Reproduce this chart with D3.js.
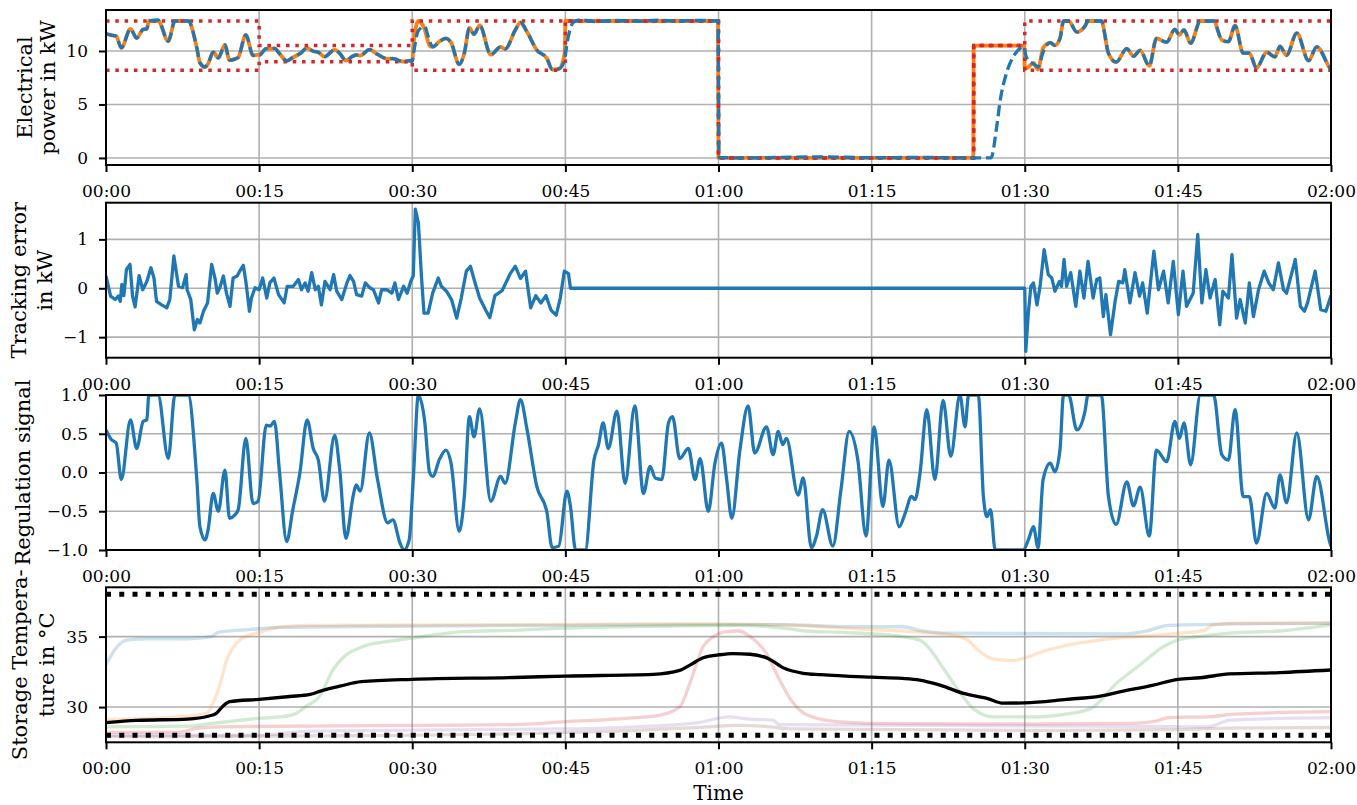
<!DOCTYPE html>
<html>
<head>
<meta charset="utf-8">
<script src="https://cdn.jsdelivr.net/npm/d3@7"></script>
<style>
body{margin:0;background:#fff;}
text{font-family:"DejaVu Serif",serif;fill:#000;}
</style>
</head>
<body>
<div id="chart"></div>
<script>

// time in minutes since 00:00

// ---------- panel 1 : electrical power (kW) ----------
const blockStart = [0, 15, 30, 45, 60, 85, 90];
const blockEnd = 120;
const boundUpper = [12.8, 10.5, 12.8, 12.8, 0, 10.5, 12.8];
const boundLower = [8.2, 9.0, 8.2, 12.8, 0, 10.5, 8.2];

const powerRef = [
  [0,11.6],[0.5,11.49],[1,11.37],[1.5,10.29],[2.4,12.06],[3,11.21],[3.65,12.02],[4,12.06],[4.2,12.8],[5.1,12.8],
  [6.1,10.91],[6.75,12.8],[8.05,12.8],[8.9,10.27],[9.2,8.89],[9.7,8.5],[10,8.8],[10.5,9.88],[11,9.35],[11.65,10.57],
  [12.1,9.14],[12.6,9.24],[12.95,9.4],[13.7,11.51],[14.4,9.58],[14.9,9.65],
  [15,9.6],[15.7,10.21],[16.1,10.2],[16.5,10.25],[17,9.75],[17.7,9.08],[18.3,9.39],[19,9.75],[19.7,10.26],[20.3,9.98],
  [20.8,9.87],[21.4,9.47],[22.4,10.11],[22.9,9.77],[23.5,9.11],[24.2,9.52],[24.5,9.63],[24.9,9.57],[25.8,10.13],[26.6,9.68],
  [27.6,9.26],[28.1,9.29],[28.8,9.07],[29.2,9.0],[29.7,9.1],
  [30,9.1],[30.1,10.29],[30.6,12.8],[31.2,12.06],[31.7,10.5],[32,10.39],[32.7,10.91],[33.3,11.17],[33.8,10.78],[34.6,8.75],
  [35.1,9.79],[35.6,12.16],[36.05,11.56],[36.6,12.39],[37.7,9.65],[38.65,10.39],[39.1,10.18],[40.1,11.97],[40.6,12.66],[41.25,11.77],
  [42.2,10.09],[43.2,9.3],[43.7,8.27],[44.35,8.32],[44.95,9.9],
  [45,12.8],[59.95,12.8],[60,0],[84.95,0],[85,10.5],[89.95,10.5],
  [90,8.3],[90.35,8.5],[90.85,8.89],[91.3,8.27],[91.8,10.29],[92.5,10.78],[92.95,10.52],[93.45,11.17],[93.8,12.8],[94.3,12.8],
  [95.1,11.77],[95.9,12.32],[96.2,12.8],[97.5,12.8],[98.2,9.79],[98.95,8.96],[100,10.22],[100.65,9.51],[101.3,10.06],[102.2,8.61],
  [102.9,11.17],[103.9,10.82],[104.7,12.02],[105.15,11.51],[105.6,11.97],[106.25,10.73],[107.2,12.8],[108.5,12.8],[109.3,11.03],[109.95,10.87],
  [110.6,12.36],[111.4,9.79],[112,9.79],[112.7,8.41],[113.7,9.88],[114.5,9.44],[115,10.43],[115.65,9.6],[116.65,11.67],[117.8,9.1],
  [118.6,10.39],[119.9,8.41],[120,8.3]
];

const powerMeas = [
  [0,11.6],[0.5,11.49],[1,11.37],[1.5,10.29],[2.4,12.06],[3,11.21],[3.65,12.02],[4,12.06],[4.2,12.8],[5.1,12.9],
  [6.1,10.91],[6.75,12.8],[8.05,12.8],[8.9,10.27],[9.2,8.89],[9.7,8.5],[10,8.8],[10.5,9.88],[11,9.35],[11.65,10.57],
  [12.1,9.14],[12.6,9.24],[12.95,9.4],[13.7,11.51],[14.4,9.58],[14.9,9.65],
  [15,9.6],[15.7,10.21],[16.1,10.2],[16.5,10.25],[17,9.75],[17.7,9.08],[18.3,9.39],[19,9.75],[19.7,10.26],[20.3,9.98],
  [20.8,9.87],[21.4,9.47],[22.4,10.11],[22.9,9.77],[23.5,9.11],[24.2,9.52],[24.5,9.63],[24.9,9.57],[25.8,10.13],[26.6,9.68],
  [27.6,9.26],[28.1,9.29],[28.8,9.07],[29.2,9.0],[29.7,9.1],
  [30,9.0],[30.1,9.6],[30.6,11.9],[31.2,12.3],[31.7,10.9],[32,10.39],[32.7,10.91],[33.3,11.17],[33.8,10.78],[34.6,8.75],
  [35.1,9.79],[35.6,12.16],[36.05,11.56],[36.6,12.39],[37.7,9.65],[38.65,10.39],[39.1,10.18],[40.1,11.97],[40.6,12.66],[41.25,11.77],
  [42.2,10.09],[43.2,9.3],[43.7,8.27],[44.35,8.32],[44.95,9.2],
  [45,9.6],[45.4,11.8],[45.8,12.7],[46.5,12.9],[48,12.75],[50,12.85],[52,12.78],[54,12.88],[56,12.8],[58,12.86],
  [59.95,12.8],[60.05,0.05],[63,0],[66,0.06],[70,0.1],[75,0.02],[80,0.05],[84,0],[86.7,0.02],[87.25,2.9],
  [87.6,5.4],[88.2,7.9],[88.9,9.5],[89.55,10.25],[89.9,10.4],[90.1,9.6],
  [90.35,9.1],[90.85,8.8],[91.3,8.5],[91.8,9.9],[92.5,10.78],[92.95,10.52],[93.45,11.17],[93.8,12.8],[94.3,12.8],
  [95.1,11.77],[95.9,12.32],[96.2,12.8],[97.5,12.8],[98.2,9.79],[98.95,8.96],[100,10.22],[100.65,9.51],[101.3,10.06],[102.2,8.61],
  [102.9,11.17],[103.9,10.82],[104.7,12.02],[105.15,11.51],[105.6,11.97],[106.25,10.73],[107.2,12.8],[108.5,12.8],[109.3,11.03],[109.95,10.87],
  [110.6,12.36],[111.4,9.79],[112,9.79],[112.7,8.41],[113.7,9.88],[114.5,9.44],[115,10.43],[115.65,9.6],[116.65,11.67],[117.8,9.1],
  [118.6,10.39],[119.9,8.41],[120,8.3]
];

// ---------- panel 2 : tracking error (kW) ----------
const trackErr = [
  [0,0.25],[0.45,-0.16],[0.9,-0.23],[1.2,-0.16],[1.4,-0.27],[1.55,0.08],[1.75,-0.15],[2,0.38],[2.35,0.49],[2.6,-0.16],
  [2.85,-0.38],[3.25,0.26],[3.6,-0.03],[4,0.14],[4.4,0.42],[4.7,0.21],[4.95,-0.27],[5.45,-0.34],[5.95,-0.4],[6.25,-0.23],
  [6.65,0.66],[7.1,0.04],[7.5,0.01],[7.85,0.28],[7.95,-0.03],[8.3,-0.23],[8.65,-0.85],[8.95,-0.64],[9.2,-0.71],[9.55,-0.47],
  [9.95,-0.3],[10.35,0.49],[10.7,0.18],[10.9,-0.1],[11.15,0.01],[11.5,0.25],[11.8,-0.1],[12.15,-0.37],[12.45,0.21],[12.85,0.25],
  [13.1,0.35],[13.45,0.47],[13.7,0.14],[14.05,-0.47],[14.25,-0.2],[14.6,0.01],[15,-0.03],[15.35,0.21],[15.75,-0.2],[16.05,0.11],
  [16.45,0.21],[16.9,-0.13],[17.45,-0.3],[17.75,0.04],[18.35,0.04],[18.85,0.18],[19.15,-0.03],[19.5,0.11],[19.8,-0.06],[20.15,0.32],
  [20.5,-0.03],[20.8,0.04],[21.1,-0.34],[21.45,0.14],[21.95,-0.03],[22.3,0.28],[22.6,-0.06],[23.1,-0.23],[23.6,0.11],[23.9,0.26],
  [24.25,0.14],[24.55,-0.13],[25.05,-0.16],[25.4,0.11],[25.85,0.01],[26.2,-0.03],[26.7,-0.3],[27,-0.03],[27.5,-0.03],[28,-0.1],
  [28.3,0.11],[28.65,-0.23],[29.15,0.04],[29.5,-0.1],[29.85,0.14],[30.1,0.25],[30.3,1.62],[30.6,1.34],[30.9,0.25],[31.15,-0.51],
  [31.55,-0.51],[32,-0.1],[32.55,0.21],[32.85,0.04],[33.35,-0.06],[33.85,-0.23],[34.35,-0.61],[34.8,-0.2],[35.3,0.35],[35.7,0.45],
  [36.1,0.15],[36.6,-0.2],[37.2,-0.45],[37.6,-0.6],[38.1,-0.15],[38.8,-0.05],[39.6,0.3],[40.1,0.45],[40.6,0.2],[41.1,0.35],
  [41.6,-0.4],[42.1,-0.15],[42.6,-0.3],[43.1,-0.15],[43.6,-0.45],[44.1,-0.55],[44.5,-0.2],[44.9,0.35],[45.3,0.3],[45.5,0],
  [90,0],[90.1,-1.29],[90.35,-0.51],[90.6,0.04],[90.85,0.11],[91.2,-0.34],[91.5,0.04],[91.9,0.79],[92.3,0.28],[92.65,0.21],
  [92.95,-0.06],[93.4,0.14],[93.6,0.04],[93.85,0.59],[94.1,0.04],[94.5,0.32],[95,-0.37],[95.4,0.35],[95.8,-0.2],[96.2,0.55],
  [96.7,-0.2],[97.05,0.18],[97.35,0.21],[97.7,-0.58],[97.95,-0.13],[98.4,-0.95],[98.85,-0.27],[99.2,0.14],[99.6,0.11],[99.8,0.38],
  [100.3,-0.3],[100.8,0.32],[101.25,-0.16],[101.55,0.11],[102,-0.51],[102.35,0.18],[102.65,0.76],[103.1,-0.03],[103.6,0.35],[104.05,-0.3],
  [104.55,0.55],[105.05,-0.54],[105.5,0.35],[105.85,-0.37],[106.5,-0.1],[106.95,1.1],[107.35,-0.3],[107.75,0.38],[108.15,-0.2],[108.65,0.18],
  [109.1,-0.75],[109.4,-0.06],[109.95,-0.2],[110.3,0.69],[110.75,-0.61],[111.1,-0.23],[111.6,-0.71],[112,0.11],[112.4,-0.58],[112.9,-0.03],
  [113.45,0.35],[113.9,0.11],[114.35,-0.03],[114.85,0.52],[115.35,-0.03],[115.65,-0.1],[116.5,0.59],[117,-0.37],[117.4,-0.47],[117.7,-0.3],
  [118.45,0.35],[119,-0.44],[119.5,-0.47],[120,-0.15]
];

// ---------- panel 3 : regulation signal ----------
const regSignal = [
  [0,0.55],[0.5,0.43],[1,0.38],[1.5,-0.09],[2.4,0.68],[3,0.31],[3.65,0.66],[4,0.68],[4.2,1],[5.1,1],
  [6.1,0.18],[6.75,1],[8.05,1],[8.9,-0.1],[9.2,-0.7],[9.7,-0.87],[10,-0.74],[10.5,-0.27],[11,-0.5],[11.65,0.03],
  [12.1,-0.59],[12.6,-0.55],[12.95,-0.48],[13.7,0.44],[14.4,-0.4],[14.9,-0.37],[15.7,0.61],[16.1,0.6],[16.5,0.66],[17,0],
  [17.7,-0.89],[18.3,-0.48],[19,0],[19.7,0.68],[20.3,0.31],[20.8,0.16],[21.4,-0.37],[22.4,0.48],[22.9,0.03],[23.5,-0.85],
  [24.2,-0.31],[24.5,-0.16],[24.9,-0.24],[25.8,0.51],[26.6,-0.09],[27.6,-0.65],[28.1,-0.61],[28.8,-0.91],[29.2,-1],[29.7,-0.87],
  [30.1,-0.09],[30.6,1],[31.2,0.68],[31.7,0],[32,-0.05],[32.7,0.18],[33.3,0.29],[33.8,0.12],[34.6,-0.76],[35.1,-0.31],
  [35.6,0.72],[36.05,0.46],[36.6,0.82],[37.7,-0.37],[38.65,-0.05],[39.1,-0.14],[40.1,0.64],[40.6,0.94],[41.25,0.55],[42.2,-0.18],
  [43.2,-0.52],[43.7,-0.97],[44.35,-0.95],[45.15,-0.24],[45.5,-0.44],[46,-1],[46.95,-1],[47.8,0.16],[48.25,0.36],[48.7,0.64],
  [49.2,0.31],[50.05,0.79],[50.85,-0.14],[51.8,0.86],[52.65,-0.27],[53.3,0.08],[53.8,-0.07],[54.45,-0.09],[55.1,0.64],[55.5,0.72],
  [56.2,0.18],[57.05,0.31],[57.7,-0.09],[58.2,0.18],[59,-0.5],[59.65,0.12],[60.3,0.38],[60.8,-0.09],[61.3,-0.59],[62.1,0.29],
  [62.9,0.86],[63.55,0.25],[64.7,0.59],[65.35,0.23],[65.85,0.53],[66.3,0.36],[66.65,0.44],[67.8,-0.29],[68.3,-0.07],[69.1,-0.97],
  [69.6,-0.82],[70.2,-0.48],[71.2,-0.95],[72,-0.22],[72.8,0.53],[73.65,0.16],[74.45,-0.82],[75.25,0.59],[76.1,-0.44],[76.7,0.16],
  [77.7,-0.7],[78.3,-0.52],[78.9,-0.31],[79.25,-0.35],[79.75,0],[80.4,0.81],[81.2,-0.09],[82,0.93],[82.75,0.21],[83.65,1],
  [84.15,0.59],[84.5,1],[85.45,1],[85.95,-0.31],[86.3,-0.57],[86.65,-0.48],[87.1,-1],[89.85,-1],[90.35,-0.87],[90.85,-0.7],
  [91.3,-0.97],[91.8,-0.09],[92.5,0.12],[92.95,0.01],[93.45,0.29],[93.8,1],[94.3,1],[95.1,0.55],[95.9,0.79],[96.2,1],
  [97.5,1],[98.2,-0.31],[98.95,-0.67],[100,-0.12],[100.65,-0.43],[101.3,-0.19],[102.2,-0.82],[102.9,0.29],[103.9,0.14],[104.7,0.66],
  [105.15,0.44],[105.6,0.64],[106.25,0.1],[107.2,1],[108.5,1],[109.3,0.23],[109.95,0.16],[110.6,0.81],[111.4,-0.31],[112,-0.31],
  [112.7,-0.91],[113.7,-0.27],[114.5,-0.46],[115,-0.03],[115.65,-0.39],[116.65,0.51],[117.8,-0.61],[118.6,-0.05],[119.9,-0.91],[120,-0.95]
];

// ---------- panel 4 : storage temperatures (degC) ----------
const tempLimits = [28, 38];
const tempBlue = [[0,33.0],[1,34.2],[2,34.75],[4,34.85],[8,34.85],[10.3,35.0],[11,35.3],[14,35.5],[17,35.65],[30,35.75],[45,35.8],[60,35.85],[66,35.85],[73,35.7],[78,35.7],[80,35.4],[82,35.25],[100,35.2],[102,35.4],[104,35.8],[110,35.9],[120,35.95]];
const tempOrange = [[0,29.1],[8,29.35],[9.9,29.57],[10.5,30.3],[11.2,31.7],[11.8,33.3],[12.3,34.05],[13.1,34.76],[15,35.3],[16.4,35.6],[18,35.75],[20,35.8],[40,35.85],[60,35.9],[65,35.85],[70,35.7],[75,35.5],[80,35.3],[83,35.1],[84.5,34.7],[85.5,34.0],[87,33.4],[89,33.3],[90,33.5],[92,34.0],[95,34.5],[99,34.9],[103,35.1],[106,35.3],[107.5,35.4],[108.5,35.85],[111,35.95],[120,35.95]];
const tempGreen = [[0,28.6],[8,28.65],[10,28.8],[13,29.05],[15,29.2],[17,29.3],[18.5,29.5],[19.5,30.0],[21,30.85],[22.2,32.6],[23.2,33.5],[25.2,34.3],[28,34.7],[30,34.9],[35,35.35],[40,35.45],[45,35.6],[55,35.75],[62,35.8],[65,35.7],[67,35.55],[68.5,35.4],[72,35.3],[78,35.0],[79.7,34.75],[80.5,34.3],[81.7,33.1],[83.5,31.2],[85.1,29.8],[87,29.3],[91,29.3],[94,29.5],[96.5,29.9],[99,31.7],[101.3,33.0],[103.6,34.3],[105,34.76],[107,35.0],[110,35.25],[115,35.4],[120,35.83]];
const tempRed = [[0,28.2],[7,28.2],[9,28.5],[11,28.6],[30,28.7],[40,28.75],[45,28.96],[51,29.2],[54.3,29.43],[56.2,30.0],[57.2,31.7],[58.5,34.3],[59.5,35.0],[60.8,35.35],[62,35.4],[63.1,35.0],[64.7,33.8],[66,31.9],[67.3,30.3],[68.7,29.43],[71.6,28.96],[75,28.85],[90,28.8],[100.6,28.84],[102.6,28.96],[104.2,29.26],[108,29.3],[110.5,29.5],[120,29.67]];
const tempPurple = [[0,28.0],[15,28.0],[20,28.3],[45,28.45],[52,28.6],[58,28.9],[61,29.3],[63,29.15],[65.3,29.07],[66,28.75],[80,28.7],[95,28.65],[108,28.6],[110,29.05],[115,29.2],[120,29.25]];
const tempBrown = [[0,27.9],[20,27.95],[40,28.1],[50,28.3],[58,28.55],[62,28.7],[65,28.6],[67,28.45],[90,28.35],[105,28.4],[110,28.5],[120,28.55]];
const tempMean = [[0,28.9],[3,29.05],[8,29.15],[10,29.35],[10.8,29.55],[11.5,30.1],[12.1,30.38],[15,30.55],[18,30.75],[20,30.9],[21,31.13],[23,31.5],[25,31.8],[30,31.97],[40,32.1],[45,32.2],[53.6,32.32],[56.2,32.6],[57.2,32.98],[58.5,33.5],[60,33.7],[61.4,33.8],[63.1,33.75],[65,33.4],[66.3,32.8],[68.3,32.4],[70,32.3],[75,32.12],[78,32.04],[79.7,31.92],[81.7,31.56],[84,30.97],[86.3,30.62],[87.9,30.28],[90,30.3],[94.1,30.55],[97.4,30.78],[99.4,31.09],[102.6,31.56],[105,31.97],[107.2,32.08],[110,32.35],[115,32.45],[120,32.63]];

const timeTicks = [0, 15, 30, 45, 60, 75, 90, 105, 120];

///////////////////////////////////////////////////////////////////////

const W = 1357, H = 805;
const left = 106, right = 1331, panelH = 155;

let svg = d3.select("#chart")
            .append("svg")
            .attr("width", W)
            .attr("height", H);

let x = d3.scaleLinear().domain([0, 120]).range([left, right]);

const fmtTime = m => String(Math.floor(m / 60)).padStart(2, "0") + ":" + String(m % 60).padStart(2, "0");

let panels = [
  {top: 10,    dom: [-0.66, 13.83], ticks: [0, 5, 10],            fmt: d3.format("d"),
   label: ["Electrical", "power in kW"], lx: [32, 55]},
  {top: 202.7, dom: [-1.42, 1.75],  ticks: [-1, 0, 1],            fmt: d3.format("d"),
   label: ["Tracking error", "in kW"], lx: [26, 52]},
  {top: 395,   dom: [-1, 1],        ticks: [-1, -0.5, 0, 0.5, 1], fmt: d3.format(".1f"),
   label: ["Regulation signal"], lx: [30]},
  {top: 587.3, dom: [27.5, 38.5],   ticks: [30, 35],              fmt: d3.format("d"),
   label: ["Storage Tempera-", "ture in °C"], lx: [27, 54]}
];

panels.forEach((p, i) => {
  p.y = d3.scaleLinear().domain(p.dom).range([p.top + panelH, p.top]);
  p.g = svg.append("g");

  svg.append("clipPath").attr("id", "clip" + i)
     .append("rect").attr("x", left).attr("y", p.top).attr("width", right - left).attr("height", panelH);

  // grid
  p.g.append("g").selectAll("line").data(timeTicks).join("line")
     .attr("x1", d => x(d)).attr("x2", d => x(d)).attr("y1", p.top).attr("y2", p.top + panelH)
     .attr("stroke", "#b0b0b0").attr("stroke-width", 1.6);
  p.g.append("g").selectAll("line").data(p.ticks).join("line")
     .attr("x1", left).attr("x2", right).attr("y1", d => p.y(d)).attr("y2", d => p.y(d))
     .attr("stroke", "#b0b0b0").attr("stroke-width", 1.6);

  p.plot = p.g.append("g").attr("clip-path", "url(#clip" + i + ")");

  // axes
  let ax = p.g.append("g").attr("transform", "translate(0," + (p.top + panelH) + ")")
     .call(d3.axisBottom(x).tickValues(timeTicks).tickFormat(fmtTime).tickSize(7).tickPadding(13));
  let ay = p.g.append("g").attr("transform", "translate(" + left + ",0)")
     .call(d3.axisLeft(p.y).tickValues(p.ticks).tickFormat(p.fmt).tickSize(7).tickPadding(11));
  [ax, ay].forEach(a => {
    a.select(".domain").remove();
    a.selectAll(".tick line").attr("stroke", "#000").attr("stroke-width", 2);
    a.selectAll("text").attr("font-size", 17).attr("font-family", "DejaVu Serif").attr("fill", "#000");
  });

  // y label
  p.label.forEach((t, k) => {
    p.g.append("text")
       .attr("transform", "translate(" + p.lx[k] + "," + (p.top + panelH / 2) + ") rotate(-90)")
       .attr("text-anchor", "middle")
       .attr("font-size", 21)
       .text(t);
  });
});

const mk = (p, curve) => d3.line().x(d => x(d[0])).y(d => p.y(d[1])).curve(curve || d3.curveMonotoneX);

// ---- panel 1
let p1 = panels[0];
const stepOf = vals => blockStart.map((s, k) => [s, vals[k]]).concat([[blockEnd, vals[vals.length - 1]]]);

p1.plot.append("path").datum(powerRef)
  .attr("d", mk(p1)).attr("fill", "none").attr("stroke", "#ff7f0e").attr("stroke-width", 3.8);
[boundUpper, boundLower].forEach(b => {
  p1.plot.append("path").datum(stepOf(b))
    .attr("d", mk(p1, d3.curveStepAfter)).attr("fill", "none")
    .attr("stroke", "#d62728").attr("stroke-width", 3.5).attr("stroke-dasharray", "3.5,5.8");
});
p1.plot.append("path").datum(powerMeas)
  .attr("d", mk(p1)).attr("fill", "none").attr("stroke", "#1f77b4").attr("stroke-width", 3.3)
  .attr("stroke-dasharray", "11,4.8");

// ---- panel 2
let p2 = panels[1];
p2.plot.append("path").datum(trackErr)
  .attr("d", mk(p2, d3.curveLinear)).attr("fill", "none").attr("stroke", "#1f77b4")
  .attr("stroke-width", 3.3).attr("stroke-linejoin", "round");

// ---- panel 3
let p3 = panels[2];
p3.plot.append("path").datum(regSignal)
  .attr("d", mk(p3)).attr("fill", "none").attr("stroke", "#1f77b4").attr("stroke-width", 3.3);

// ---- panel 4
let p4 = panels[3];
const paleSeries = [tempBlue, tempOrange, tempGreen, tempRed, tempPurple, tempBrown];
const paleColors = ["#1f77b4", "#ff7f0e", "#2ca02c", "#d62728", "#9467bd", "#8c564b"];
paleSeries.forEach((s, k) => {
  p4.plot.append("path").datum(s)
    .attr("d", mk(p4)).attr("fill", "none").attr("stroke", paleColors[k])
    .attr("stroke-opacity", 0.22).attr("stroke-width", 3.3);
});
p4.plot.append("path").datum(tempMean)
  .attr("d", mk(p4)).attr("fill", "none").attr("stroke", "#000").attr("stroke-width", 3.3);
p4.plot.selectAll(".limit").data(tempLimits).join("line")
  .attr("x1", left).attr("x2", right).attr("y1", d => p4.y(d)).attr("y2", d => p4.y(d))
  .attr("stroke", "#000").attr("stroke-width", 5).attr("stroke-dasharray", "5,8.25");

// frames on top
panels.forEach(p => {
  p.g.append("rect").attr("x", left).attr("y", p.top).attr("width", right - left).attr("height", panelH)
     .attr("fill", "none").attr("stroke", "#000").attr("stroke-width", 2);
});

svg.append("text")
   .attr("x", (left + right) / 2).attr("y", 800)
   .attr("text-anchor", "middle").attr("font-size", 20)
   .text("Time");

</script>
</body>
</html>
